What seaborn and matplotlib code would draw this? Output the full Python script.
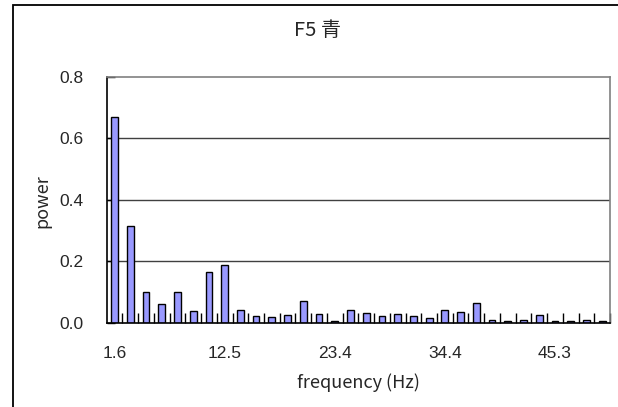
import matplotlib
matplotlib.use("Agg")
import matplotlib.pyplot as plt
from matplotlib.patches import Rectangle
from matplotlib.ticker import FixedLocator, NullFormatter
import seaborn as sns
import pandas as pd

# Spectrum bins: 1.5625 Hz steps from bin 1 to bin 32
freq_labels = ["1.6", "3.1", "4.7", "6.3", "7.8", "9.4", "10.9", "12.5",
               "14.1", "15.6", "17.2", "18.8", "20.3", "21.9", "23.4", "25.0",
               "26.6", "28.1", "29.7", "31.3", "32.8", "34.4", "35.9", "37.5",
               "39.1", "40.6", "42.2", "43.8", "45.3", "46.9", "48.4", "50.0"]
power = [0.669, 0.314, 0.099, 0.061, 0.099, 0.037, 0.164, 0.189,
         0.041, 0.022, 0.018, 0.024, 0.070, 0.028, 0.004, 0.041,
         0.031, 0.022, 0.029, 0.022, 0.016, 0.041, 0.034, 0.063,
         0.009, 0.005, 0.009, 0.025, 0.005, 0.005, 0.009, 0.005]
yticks = [0.0, 0.2, 0.4, 0.6, 0.8]
title = "F5 青"

df = pd.DataFrame({"freq": freq_labels, "power": power})

sns.set_theme(style="white")
plt.rcParams["font.family"] = ["Liberation Sans", "DejaVu Sans"]
cjk = ["Noto Sans CJK JP", "DejaVu Sans"]

fig = plt.figure(figsize=(6.18, 4.07), dpi=100)
fig.patch.set_facecolor("white")

# chart-area frame (runs past the right and bottom edges)
fig.add_artist(Rectangle((13 / 618, -0.1), 1.2, 1 - 4.8 / 407 + 0.1,
                         transform=fig.transFigure, fill=False,
                         edgecolor="black", linewidth=1.3))

ax = fig.add_axes([106.7 / 618, 1 - 322.7 / 407, (610 - 106.7) / 618,
                   (322.7 - 76.7) / 407])

sns.barplot(data=df, x="freq", y="power", order=freq_labels, ax=ax,
            color="#9999FF", saturation=1, width=0.43,
            edgecolor="black", linewidth=1.0)

ax.set_xlim(-0.5, len(freq_labels) - 0.5)
ax.set_ylim(0, 0.8)

# y axis
ax.set_yticks(yticks)
ax.set_yticklabels([f"{v:.1f}" for v in yticks], fontsize=12.5)
ax.tick_params(axis="y", direction="in", length=6, width=1, color="black",
               pad=17, left=True)
for v in yticks[1:-1]:
    ax.axhline(v, color="#404040", linewidth=1, zorder=0)

# x axis: labels every 7th bin, tick marks on bin boundaries
major = list(range(0, len(freq_labels), 7))
ax.set_xticks(major)
ax.set_xticklabels([freq_labels[i] for i in major], fontsize=12.5)
ax.xaxis.set_minor_locator(FixedLocator([i + 0.5 for i in range(len(freq_labels))]))
ax.xaxis.set_minor_formatter(NullFormatter())
ax.tick_params(axis="x", which="major", length=0, pad=17)
ax.tick_params(axis="x", which="minor", direction="in", length=7, width=1,
               color="black", bottom=True)

for side in ["left", "bottom"]:
    ax.spines[side].set_color("black")
    ax.spines[side].set_linewidth(1.2)
for side in ["top", "right"]:
    ax.spines[side].set_color("#808080")
    ax.spines[side].set_linewidth(1.2)

ax.set_xlabel("")
ax.set_ylabel("")
fig.text(42 / 618, 1 - 201 / 407, "power", rotation=90, ha="center",
         va="center", fontsize=13, family=cjk)
fig.text(358 / 618, 1 - 383 / 407, "frequency (Hz)", ha="center",
         va="center", fontsize=13, family=cjk)
fig.text(318 / 618, 1 - 30.5 / 407, title, ha="center", va="center",
         fontsize=14.5, family=cjk)

fig.savefig("out.png", dpi=100)
